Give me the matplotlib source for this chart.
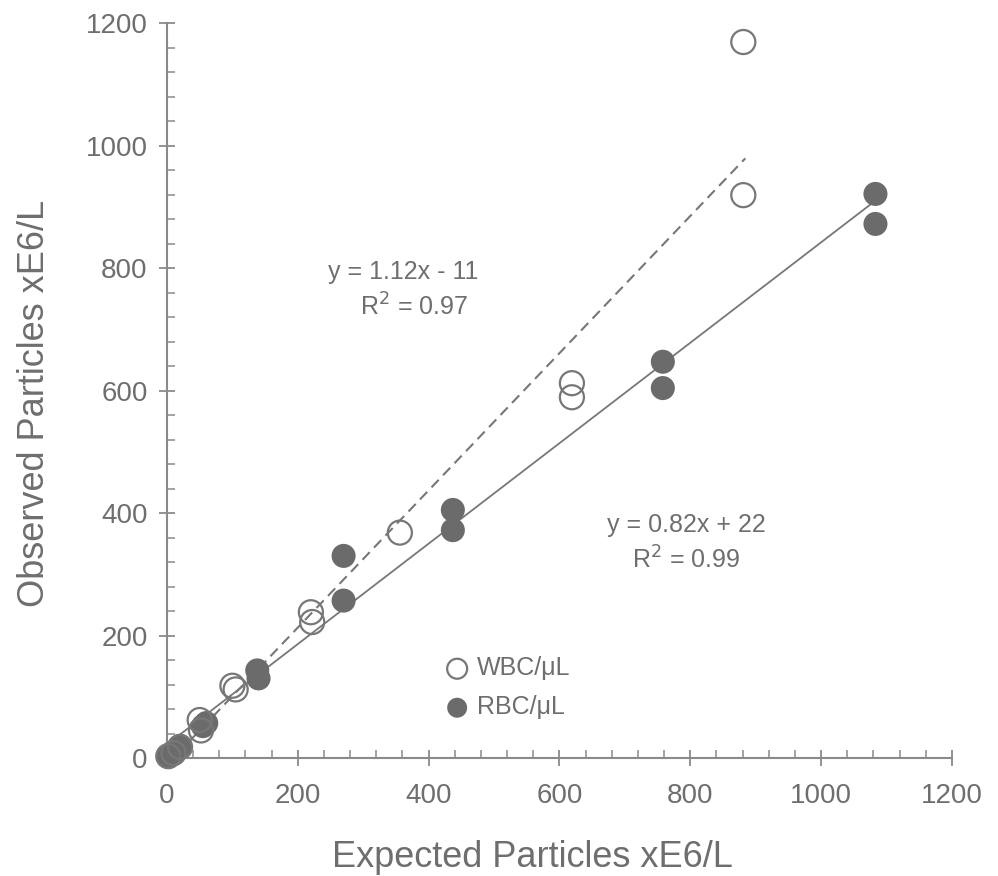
import matplotlib
matplotlib.use("Agg")
import matplotlib.pyplot as plt
import numpy as np
from matplotlib.ticker import MultipleLocator

plt.rcParams['font.family'] = ['Liberation Sans', 'DejaVu Sans']

# Data
wbc_x = [2, 10, 20, 50, 52, 100, 105, 220, 222, 356, 619, 619, 881, 881]
wbc_y = [3, 8, 18, 62, 45, 118, 112, 238, 222, 368, 612, 589, 1169, 919]
rbc_x = [2, 8, 15, 20, 55, 60, 138, 140, 270, 270, 437, 437, 758, 758, 1083, 1083]
rbc_y = [2, 8, 13, 20, 52, 57, 143, 130, 330, 257, 405, 372, 647, 604, 921, 872]

wbc_slope, wbc_int, wbc_xmax = 1.12, -11, 884
rbc_slope, rbc_int, rbc_xmax = 0.82, 22, 1083

x_ticks = [0, 200, 400, 600, 800, 1000, 1200]
y_ticks = [0, 200, 400, 600, 800, 1000, 1200]

gray_axis = '#8a8a8a'
gray_text = '#6e6e6e'
fill_col = '#6b6b6b'
open_col = '#777777'

fig = plt.figure(figsize=(9.98, 8.76), dpi=100)
ax = fig.add_axes([0.1673, 0.1347, 0.7866, 0.839])

# regression lines
lx = np.array([0, wbc_xmax])
ax.plot(lx, wbc_slope * lx + wbc_int, ls=(0, (5, 3)), color='#777777', lw=1.5, zorder=2)
lx2 = np.array([0, rbc_xmax])
ax.plot(lx2, rbc_slope * lx2 + rbc_int, ls='-', color='#777777', lw=1.3, zorder=2)

ax.scatter(rbc_x, rbc_y, s=300, facecolor=fill_col, edgecolor='none', zorder=3,
           clip_on=False, label='RBC/μL')
ax.scatter(wbc_x, wbc_y, s=300, facecolor='none', edgecolor=open_col, linewidths=1.6,
           zorder=4, clip_on=False, label='WBC/μL')

ax.set_xlim(0, 1200)
ax.set_ylim(0, 1200)
ax.set_xticks(x_ticks)
ax.set_yticks(y_ticks)
ax.xaxis.set_minor_locator(MultipleLocator(40))
ax.yaxis.set_minor_locator(MultipleLocator(40))

for s in ['top', 'right']:
    ax.spines[s].set_visible(False)
for s in ['left', 'bottom']:
    ax.spines[s].set_color(gray_axis)
    ax.spines[s].set_linewidth(1.5)

ax.tick_params(which='major', direction='inout', length=12, width=1.3, color=gray_axis,
               labelsize=20, labelcolor=gray_text)
ax.tick_params(axis='x', which='major', pad=12)
ax.tick_params(axis='y', which='major', pad=8)
ax.tick_params(which='minor', direction='in', length=6, width=1.1, color=gray_axis)

ax.set_xlabel('Expected Particles xE6/L', fontsize=26, color=gray_text)
ax.set_ylabel('Observed Particles xE6/L', fontsize=26, color=gray_text)
ax.xaxis.set_label_coords(0.466, -0.112)
ax.yaxis.set_label_coords(-0.146, 0.482)

ax.text(361, 793, 'y = 1.12x - 11', fontsize=18, color=gray_text, ha='center', va='center')
ax.text(378, 736, 'R$^2$ = 0.97', fontsize=18, color=gray_text, ha='center', va='center')
ax.text(794, 380, 'y = 0.82x + 22', fontsize=18, color=gray_text, ha='center', va='center')
ax.text(794, 323, 'R$^2$ = 0.99', fontsize=18, color=gray_text, ha='center', va='center')

handles, labels = ax.get_legend_handles_labels()
leg = ax.legend(handles[::-1], labels[::-1], loc='upper left', bbox_to_anchor=(0.341, 0.152),
                frameon=False, fontsize=18, markerscale=0.83, handlelength=1.0,
                handletextpad=0.3, labelspacing=0.6, borderaxespad=0)
for t in leg.get_texts():
    t.set_color(gray_text)

fig.savefig('out.png', dpi=100)
